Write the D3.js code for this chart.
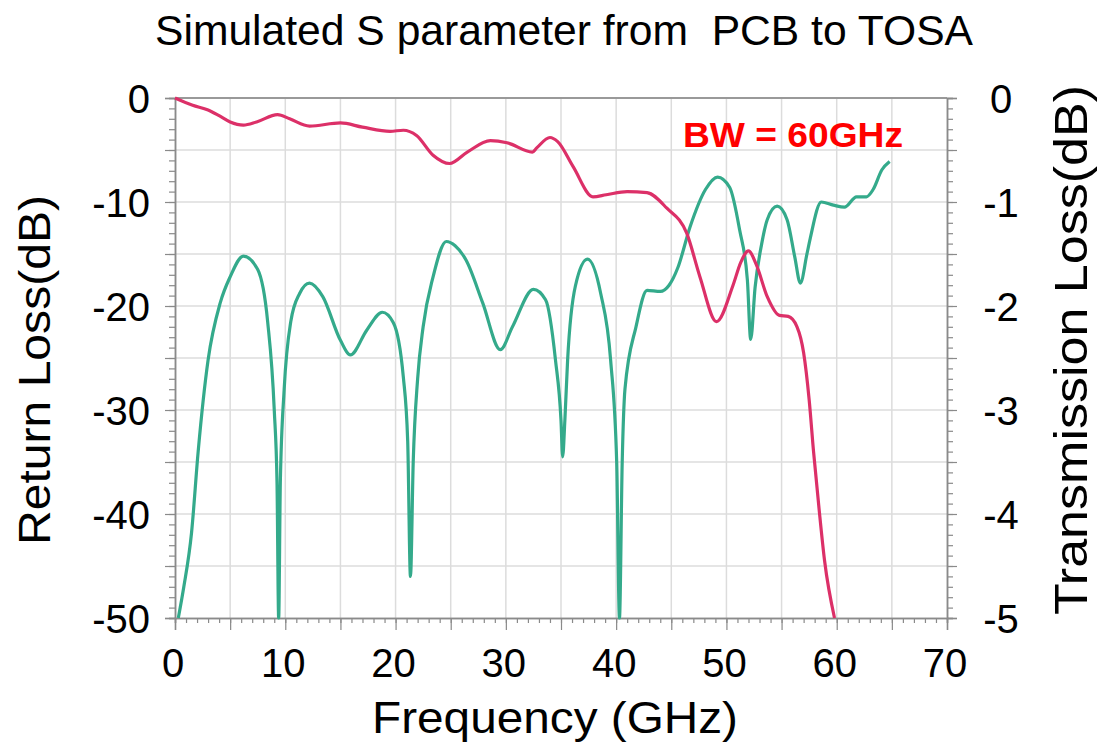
<!DOCTYPE html>
<html>
<head>
<meta charset="utf-8">
<script src="https://cdn.jsdelivr.net/npm/d3@7"></script>
<style>
  body { margin: 0; background: #fff; }
  text { font-family: "Liberation Sans", Arial, sans-serif; }
</style>
</head>
<body>
<div id="chart"></div>
<script>
// S11 (return loss), left axis
const s11Freq = [0.3, 0.8, 1.5, 2.1, 3.0, 4.1, 5.0, 6.2, 7.5, 8.4, 9.0, 9.25, 9.4, 9.55, 9.9, 10.5, 11.3, 12.2, 13.4, 15.0,
  15.9, 17.4, 18.8, 19.8, 20.7, 21.1, 21.35, 21.6, 22.0, 22.5, 23.4, 24.6, 25.4, 26.4, 27.9, 29.5, 30.6, 32.5, 33.6,
  34.5, 35.0, 35.15, 35.35, 35.6, 36.3, 37.4, 38.6, 39.5, 40.05, 40.3, 40.55, 40.8, 41.8, 42.8, 44.0, 44.8, 45.6,
  46.7, 48.1, 49.2, 50.3, 51.2, 51.9, 52.2, 52.6, 53.2, 53.7, 54.6, 55.5, 56.2, 56.7, 57.3, 57.6, 58.6, 59.7, 60.7,
  61.8, 62.7, 63.3, 64.1, 64.8];
const s11Db = [-50, -47, -41.8, -34, -25.2, -19.7, -17.2, -15.2, -16.5, -21.5, -30, -37, -50, -37, -28, -21.5, -18.8, -17.8, -19.1, -23.3,
  -24.7, -22.3, -20.6, -21.6, -26.8, -33, -46, -35, -27, -22, -17.2, -13.8, -14.2, -15.6, -19.7, -24.2, -22, -18.4, -19.4,
  -25.2, -31, -34.5, -31, -25.2, -18.1, -15.5, -18.8, -25.2, -35, -50, -35, -28, -22, -18.5, -18.6, -18.0, -16.3,
  -12.4, -8.8, -7.6, -8.6, -12.7, -17.5, -23.2, -18.2, -14, -11.7, -10.4, -11.7, -15.3, -17.8, -15, -13.5, -10, -10.3, -10.5,
  -9.5, -9.5, -8.8, -6.9, -6.1];

// S21 (transmission loss), right axis
const s21Freq = [0, 1.6, 3.0, 4.0, 5.0, 6.2, 7.4, 9.3, 10.4, 12.2, 15.0, 17.0, 19.5, 20.7, 21.9, 23.4, 24.9, 26.5, 28.6, 30.1,
  32.4, 32.8, 34.0, 34.7, 36.1, 37.9, 39.1, 41.0, 42.8, 44.6, 46.4, 47.6, 49.1, 50.6, 51.3, 52.0, 52.7, 53.7, 54.8, 55.6,
  56.4, 57.0, 57.5, 57.9, 58.4, 58.9, 59.8];
const s21Db = [0, -0.07, -0.115, -0.17, -0.23, -0.26, -0.23, -0.16, -0.2, -0.27, -0.24, -0.28, -0.32, -0.31, -0.36, -0.55, -0.63, -0.52, -0.41, -0.43,
  -0.52, -0.48, -0.38, -0.42, -0.66, -0.95, -0.93, -0.9, -0.91, -1.06, -1.3, -1.72, -2.15, -1.8, -1.58, -1.47, -1.6, -1.91, -2.09, -2.1,
  -2.2, -2.45, -2.9, -3.4, -3.95, -4.45, -5.0];

const xTicks = [0, 10, 20, 30, 40, 50, 60, 70];
const leftTicks = [0, -10, -20, -30, -40, -50];
const rightTicks = [0, -1, -2, -3, -4, -5];

const W = 1113, H = 747;
const margin = { top: 98, right: 166, bottom: 129, left: 175 };
const width = W - margin.left - margin.right;
const height = H - margin.top - margin.bottom;

const svg = d3.select("#chart").append("svg")
  .attr("width", W)
  .attr("height", H);

const chart = svg.append("g")
  .attr("transform", `translate(${margin.left},${margin.top})`);

const x = d3.scaleLinear().domain([0, 70]).range([0, width]);
const yL = d3.scaleLinear().domain([-50, 0]).range([height, 0]);
const yR = d3.scaleLinear().domain([-5, 0]).range([height, 0]);

// grid every 5 GHz / 5 dB
chart.append("g").selectAll("line.vg")
  .data(d3.range(5, 70, 5))
  .join("line")
  .attr("x1", d => x(d)).attr("x2", d => x(d))
  .attr("y1", 0).attr("y2", height)
  .attr("stroke", "#dcdcdc").attr("stroke-width", 1.5);

chart.append("g").selectAll("line.hg")
  .data(d3.range(-45, 0, 5))
  .join("line")
  .attr("x1", 0).attr("x2", width)
  .attr("y1", d => yL(d)).attr("y2", d => yL(d))
  .attr("stroke", "#dcdcdc").attr("stroke-width", 1.5);

// top frame line
chart.append("line")
  .attr("x1", 0).attr("x2", width).attr("y1", 0).attr("y2", 0)
  .attr("stroke", "#999").attr("stroke-width", 2);

const axisColor = "#8a8a8a";
function styleAxis(g) {
  g.select(".domain").attr("stroke", axisColor).attr("stroke-width", 1.5);
  g.selectAll(".tick line").attr("stroke", axisColor).attr("stroke-width", 1.2);
}

// minor + major ticks
chart.append("g")
  .attr("transform", `translate(0,${height})`)
  .call(d3.axisBottom(x).tickValues(d3.range(0, 71, 1)).tickSize(5).tickFormat(""))
  .call(styleAxis);
chart.append("g")
  .attr("transform", `translate(0,${height})`)
  .call(d3.axisBottom(x).tickValues(d3.range(0, 71, 5)).tickSize(12).tickFormat(""))
  .call(styleAxis);
chart.append("g")
  .call(d3.axisLeft(yL).tickValues(d3.range(-50, 1, 1)).tickSize(6).tickFormat(""))
  .call(styleAxis);
chart.append("g")
  .call(d3.axisLeft(yL).tickValues(d3.range(-50, 1, 5)).tickSize(10).tickFormat(""))
  .call(styleAxis);
chart.append("g")
  .attr("transform", `translate(${width},0)`)
  .call(d3.axisRight(yR).tickValues(d3.range(-50, 1, 1).map(d => d / 10)).tickSize(6).tickFormat(""))
  .call(styleAxis);
chart.append("g")
  .attr("transform", `translate(${width},0)`)
  .call(d3.axisRight(yR).tickValues(d3.range(-50, 1, 5).map(d => d / 10)).tickSize(10).tickFormat(""))
  .call(styleAxis);

// tick labels
const labelSize = 40;
chart.append("g").selectAll("text")
  .data(xTicks)
  .join("text")
  .attr("x", d => x(d) - 2)
  .attr("y", height + 59)
  .attr("text-anchor", "middle")
  .attr("font-size", labelSize)
  .text(d => d);

chart.append("g").selectAll("text")
  .data(leftTicks)
  .join("text")
  .attr("x", -25)
  .attr("y", d => yL(d) + 15)
  .attr("text-anchor", "end")
  .attr("font-size", labelSize)
  .text(d => d);

chart.append("g").selectAll("text")
  .data(rightTicks)
  .join("text")
  .attr("x", width + 54)
  .attr("y", d => yR(d) + 15)
  .attr("text-anchor", "middle")
  .attr("font-size", labelSize)
  .text(d => d);

// curves
const s11 = s11Freq.map((f, i) => ({ f: f, v: s11Db[i] }));
const s21 = s21Freq.map((f, i) => ({ f: f, v: s21Db[i] }));

chart.append("path")
  .datum(s11)
  .attr("fill", "none")
  .attr("stroke", "#34aa8b")
  .attr("stroke-width", 3.2)
  .attr("stroke-linejoin", "round")
  .attr("d", d3.line().x(d => x(d.f)).y(d => yL(d.v)).curve(d3.curveMonotoneX));

chart.append("path")
  .datum(s21)
  .attr("fill", "none")
  .attr("stroke", "#dc3068")
  .attr("stroke-width", 3.2)
  .attr("stroke-linejoin", "round")
  .attr("d", d3.line().x(d => x(d.f)).y(d => yR(d.v)).curve(d3.curveMonotoneX));

// annotation
chart.append("text")
  .attr("x", 508)
  .attr("y", 49)
  .attr("font-size", 35)
  .attr("font-weight", "bold")
  .attr("fill", "#ff0000")
  .attr("textLength", 220)
  .attr("lengthAdjust", "spacingAndGlyphs")
  .text("BW = 60GHz");

// titles
svg.append("text")
  .attr("x", 155)
  .attr("y", 45)
  .attr("font-size", 42)
  .attr("textLength", 818)
  .attr("lengthAdjust", "spacingAndGlyphs")
  .attr("xml:space", "preserve")
  .text("Simulated S parameter from  PCB to TOSA");

svg.append("text")
  .attr("x", 555)
  .attr("y", 733)
  .attr("text-anchor", "middle")
  .attr("font-size", 44)
  .attr("textLength", 366)
  .attr("lengthAdjust", "spacingAndGlyphs")
  .text("Frequency (GHz)");

svg.append("text")
  .attr("transform", "translate(50,370) rotate(-90)")
  .attr("text-anchor", "middle")
  .attr("font-size", 44)
  .attr("textLength", 350)
  .attr("lengthAdjust", "spacingAndGlyphs")
  .text("Return Loss(dB)");

svg.append("text")
  .attr("transform", "translate(1087,350) rotate(-90)")
  .attr("text-anchor", "middle")
  .attr("font-size", 46)
  .attr("textLength", 530)
  .attr("lengthAdjust", "spacingAndGlyphs")
  .text("Transmission Loss(dB)");
</script>
</body>
</html>
